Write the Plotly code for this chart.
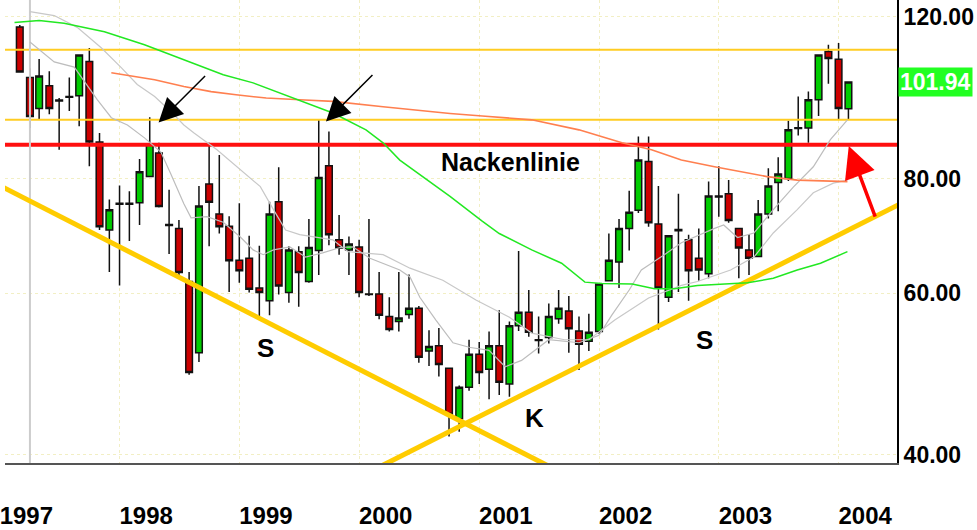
import math
import plotly.graph_objects as go

# ---------------- data ----------------
months = [f"{y}-{m:02d}-01" for y in range(1997, 2004) for m in range(1, 13)]

opens = [117.0, 103.1, 95.4, 101.0, 97.4, 98.1, 98.5, 107.3, 87.7, 70.3, 75.2, 75.0,
         75.3, 80.4, 85.3, 71.3, 70.6, 61.8, 51.7, 78.9, 73.2, 71.0, 65.2, 65.5,
         60.8, 58.9, 75.5, 60.1, 66.6, 61.8, 66.8, 82.6, 68.6, 66.9, 67.4, 59.9,
         59.9, 56.6, 55.9, 56.9, 57.8, 51.9, 52.6, 49.7, 43.8, 47.4, 51.5, 49.6,
         52.6, 47.8, 55.3, 57.2, 53.4, 53.7, 56.3, 57.4, 54.6, 53.2, 54.5, 61.9,
         64.9, 70.6, 73.9, 83.5, 71.4, 59.4, 70.4, 68.6, 65.5, 63.0, 76.6, 77.0,
         70.6, 66.9, 65.8, 73.2, 79.2, 80.0, 90.9, 90.8, 97.5, 110.0, 107.9, 95.3]
highs = [117.6, 105.5, 108.0, 104.7, 97.9, 103.1, 109.3, 111.0, 89.7, 75.9, 78.6, 77.5,
         84.0, 93.3, 87.5, 77.8, 72.1, 63.3, 78.5, 87.5, 84.9, 72.8, 75.2, 69.3,
         67.6, 75.5, 82.3, 67.5, 67.5, 72.3, 92.7, 90.0, 73.0, 69.2, 68.6, 72.3,
         63.3, 59.4, 63.3, 62.9, 58.1, 54.7, 55.0, 49.8, 47.6, 53.4, 53.1, 54.5,
         57.5, 55.9, 66.7, 60.5, 56.6, 58.5, 60.5, 59.6, 56.6, 57.0, 61.5, 69.7,
         72.3, 77.6, 88.9, 88.9, 78.5, 69.4, 77.0, 69.5, 70.6, 79.4, 82.5, 79.7,
         70.7, 69.6, 75.8, 82.1, 84.4, 92.5, 98.3, 99.5, 109.3, 111.9, 112.4, 101.94]
lows = [104.3, 90.8, 92.9, 94.0, 86.0, 94.8, 91.2, 82.5, 70.3, 63.3, 61.2, 68.4,
        71.2, 80.3, 74.4, 66.2, 62.5, 48.9, 50.5, 67.5, 69.7, 60.2, 61.6, 60.1,
        56.6, 56.8, 59.8, 58.6, 58.0, 61.6, 62.8, 67.7, 66.1, 62.8, 59.4, 59.6,
        56.2, 54.5, 54.5, 56.3, 50.4, 50.0, 48.7, 41.9, 42.4, 47.0, 47.8, 46.0,
        46.5, 46.3, 54.6, 53.8, 51.6, 52.9, 55.6, 51.7, 49.5, 51.9, 54.2, 61.8,
        60.8, 66.8, 73.4, 70.9, 54.8, 58.7, 60.2, 58.9, 61.9, 62.3, 72.7, 71.6,
        62.3, 62.8, 65.7, 72.4, 73.7, 79.5, 89.1, 87.5, 93.6, 101.5, 92.7, 92.7]
closes = [104.5, 93.5, 103.5, 95.4, 97.2, 98.3, 109.1, 87.7, 70.9, 74.0, 75.0, 75.2,
          81.4, 87.3, 74.6, 71.1, 63.2, 49.2, 74.7, 75.4, 70.9, 65.1, 63.5, 60.6,
          60.1, 73.2, 61.1, 66.9, 63.2, 67.3, 80.2, 69.5, 67.2, 67.9, 60.1, 59.8,
          56.8, 54.8, 56.4, 57.8, 51.1, 52.5, 50.2, 44.3, 47.4, 51.5, 49.2, 52.6,
          48.0, 55.3, 57.2, 54.4, 53.3, 56.6, 57.8, 54.9, 52.8, 54.4, 61.4, 65.2,
          70.6, 73.5, 83.8, 71.6, 60.8, 69.3, 70.2, 63.5, 63.6, 76.6, 76.4, 72.0,
          67.2, 65.5, 73.2, 78.5, 80.9, 90.4, 90.7, 97.5, 109.1, 108.1, 95.4, 101.94]

last_value = 101.94

# moving averages
green_ma_dates = ["1996-12-16", "1997-03-01", "1997-05-16", "1997-09-16", "1998-01-16",
                  "1998-05-16", "1998-09-13", "1998-12-13", "1999-04-04", "1999-08-13",
                  "1999-11-22", "2000-01-13", "2000-03-04", "2000-05-13", "2000-08-04",
                  "2000-11-10", "2001-01-01", "2001-04-10", "2001-07-10", "2001-09-19",
                  "2001-11-10", "2002-02-10", "2002-04-19", "2002-06-19", "2002-08-28",
                  "2003-01-28", "2003-04-16", "2003-06-28", "2003-09-07", "2003-11-28"]
green_ma_vals = [118.3, 118.9, 118.1, 115.6, 111.9, 107.7, 103.8, 101.7, 98.3, 94.3,
                 90.4, 87.5, 83.8, 80.4, 76.5, 71.9, 69.7, 66.9, 64.7, 61.7,
                 61.5, 61.4, 60.7, 60.7, 61.2, 61.6, 62.3, 63.6, 64.7, 66.6]

orange_ma_dates = ["1997-10-07", "1997-12-07", "1998-02-16", "1998-05-16", "1998-08-07",
                   "1998-10-22", "1999-01-22", "1999-05-04", "1999-08-13", "2000-01-13",
                   "2000-04-22", "2000-08-04", "2000-11-10", "2001-04-10", "2001-09-01",
                   "2002-01-10", "2002-04-10", "2002-07-10", "2002-10-19", "2003-01-07",
                   "2003-03-28", "2003-06-28", "2003-11-28"]
orange_ma_vals = [104.3, 103.4, 102.5, 100.8, 99.5, 98.7, 97.9, 97.5, 97.1, 95.8,
                  95.0, 94.2, 93.6, 92.7, 90.4, 87.5, 86.0, 83.8, 82.4, 81.4,
                  80.4, 79.7, 79.4]

grey_fast_dates = ["1997-02-01", "1997-04-16", "1997-06-16", "1997-08-25", "1997-10-07",
                   "1997-11-25", "1998-01-16", "1998-03-07", "1998-04-07", "1998-05-16",
                   "1998-06-07", "1998-07-25", "1998-09-13", "1998-11-04", "1998-12-13",
                   "1999-01-13", "1999-02-13", "1999-04-04", "1999-05-22", "1999-07-13",
                   "1999-09-04", "1999-10-13", "1999-12-04", "2000-03-04", "2000-04-04",
                   "2000-05-04", "2000-06-22", "2000-08-13", "2000-10-01", "2000-12-01",
                   "2001-01-19", "2001-03-10", "2001-06-01", "2001-09-01", "2001-11-01",
                   "2001-12-10", "2002-02-01", "2002-03-10", "2002-05-19", "2002-07-10",
                   "2002-10-19", "2002-11-16", "2002-12-28", "2003-02-16", "2003-04-16",
                   "2003-06-16", "2003-08-16", "2003-10-07", "2003-11-28"]
grey_fast_vals = [112.7, 107.2, 105.8, 97.5, 93.2, 91.5, 88.6, 85.5, 80.8, 75.1,
                  72.5, 72.7, 71.7, 69.1, 66.9, 66.1, 66.9, 67.4, 65.7, 66.4,
                  67.3, 67.4, 65.5, 63.6, 62.5, 59.4, 56.1, 53.0, 52.4, 52.0,
                  49.9, 50.7, 53.4, 53.0, 54.0, 56.8, 60.5, 63.6, 66.1, 68.1,
                  70.6, 71.2, 69.0, 69.8, 74.0, 78.3, 82.4, 88.2, 92.7]

grey_slow_dates = ["1997-02-01", "1997-04-16", "1997-06-25", "1997-09-07", "1997-11-07",
                   "1997-12-25", "1998-02-16", "1998-04-07", "1998-05-16", "1998-06-16",
                   "1998-08-25", "1998-11-04", "1999-01-04", "1999-02-13", "1999-03-22",
                   "1999-05-04", "1999-06-22", "1999-08-13", "1999-09-28", "2000-01-13",
                   "2000-04-04", "2000-07-13", "2000-10-22", "2001-02-01", "2001-04-10",
                   "2001-07-19", "2001-10-01", "2001-12-19", "2002-04-01", "2002-07-10",
                   "2002-08-28", "2002-12-07", "2003-02-16", "2003-04-16", "2003-06-28",
                   "2003-08-16", "2003-10-16", "2003-11-28"]
grey_slow_vals = [121.6, 120.4, 116.9, 111.0, 105.6, 101.3, 98.3, 94.6, 91.5, 89.7,
                  86.0, 81.8, 78.4, 74.0, 70.3, 69.5, 69.1, 68.6, 66.6, 66.1,
                  63.9, 62.0, 59.0, 56.5, 54.3, 53.4, 53.4, 56.1, 59.3, 61.2,
                  61.8, 63.6, 65.7, 69.8, 74.0, 77.2, 79.1, 79.7]

# horizontal levels
yellow_levels = [110.5, 92.7]
neckline_level = 87.1

# trend lines (start/end)
trend_down_dates = ["1996-11-01", "2001-07-01"]
trend_down_vals = [78.6, 38.4]
trend_up_dates = ["2000-01-01", "2004-05-01"]
trend_up_vals = [38.8, 74.9]

marker_line_date = "1997-02-01"

# axis
y_ticks = [40, 60, 80, 120]
y_tick_labels = ["40.00", "60.00", "80.00", "120.00"]
year_labels = ["1997", "1998", "1999", "2000", "2001", "2002", "2003", "2004"]
grid_dates = ["1997-11-01", "1998-11-01", "1999-11-01", "2000-11-01",
              "2001-11-01", "2002-11-01", "2003-11-01"]

# text annotations
labels_text = ["Nackenlinie", "S", "K", "S"]
labels_dates = ["2001-02-05", "1999-01-19", "2001-04-19", "2002-09-19"]
labels_vals = [83.4, 52.3, 43.9, 53.4]

# arrows (tip positions)
arrow_dates = ["1998-02-28", "1999-07-23"]
arrow_vals = [92.1, 92.3]
red_arrow_date = "2003-12-02"
red_arrow_val = 86.8

x_range = ["1996-11-17", "2004-04-27"]
y_range = [39.2, 125.2]

FONT = "Liberation Sans, Arial, sans-serif"

# ---------------- figure ----------------
fig = go.Figure()

for lv in yellow_levels:
    fig.add_trace(go.Scatter(x=x_range, y=[lv, lv], mode="lines",
                             line=dict(color="#ffcc22", width=2), hoverinfo="skip"))
fig.add_trace(go.Scatter(x=x_range, y=[neckline_level, neckline_level], mode="lines",
                         line=dict(color="#ff1010", width=4), hoverinfo="skip"))

fig.add_trace(go.Scatter(x=[marker_line_date, marker_line_date], y=y_range, mode="lines",
                         line=dict(color="#cccccc", width=2), hoverinfo="skip"))

fig.add_trace(go.Scatter(x=trend_down_dates, y=trend_down_vals, mode="lines",
                         line=dict(color="#ffcc00", width=5), hoverinfo="skip"))
fig.add_trace(go.Scatter(x=trend_up_dates, y=trend_up_vals, mode="lines",
                         line=dict(color="#ffcc00", width=5), hoverinfo="skip"))

fig.add_trace(go.Scatter(x=grey_slow_dates, y=grey_slow_vals, mode="lines",
                         line=dict(color="#c8c8c8", width=1.2), hoverinfo="skip"))
fig.add_trace(go.Scatter(x=grey_fast_dates, y=grey_fast_vals, mode="lines",
                         line=dict(color="#bdbdbd", width=1.2), hoverinfo="skip"))
fig.add_trace(go.Scatter(x=orange_ma_dates, y=orange_ma_vals, mode="lines",
                         line=dict(color="#ff7f4f", width=1.6), hoverinfo="skip"))
fig.add_trace(go.Scatter(x=green_ma_dates, y=green_ma_vals, mode="lines",
                         line=dict(color="#22e822", width=1.5), hoverinfo="skip"))

fig.add_trace(go.Candlestick(
    x=months, open=opens, high=highs, low=lows, close=closes,
    increasing=dict(fillcolor="#00cc00", line=dict(color="#111111", width=1.5)),
    decreasing=dict(fillcolor="#cc0000", line=dict(color="#111111", width=1.5)),
    whiskerwidth=0, hoverinfo="skip"))

annotations = []
for t, d, v in zip(labels_text, labels_dates, labels_vals):
    annotations.append(dict(x=d, y=math.log10(v), text=t, showarrow=False,
                            font=dict(family=FONT, size=25 if t == "Nackenlinie" else 26,
                                      color="black", weight="bold"),
                            xanchor="center", yanchor="middle"))
for d, v in zip(arrow_dates, arrow_vals):
    annotations.append(dict(x=d, y=math.log10(v), text="", showarrow=True,
                            ax=48, ay=-48, arrowhead=2, arrowsize=3.2, arrowwidth=1.5,
                            arrowcolor="black"))
annotations.append(dict(x=red_arrow_date, y=math.log10(red_arrow_val), text="", showarrow=True,
                        ax=27, ay=72, arrowhead=2, arrowsize=1.8, arrowwidth=3.5,
                        arrowcolor="#ff0000"))
annotations.append(dict(xref="paper", x=1.0, xanchor="left", xshift=1,
                        y=math.log10(last_value), yanchor="middle",
                        text=f"{last_value:.2f}", showarrow=False,
                        bgcolor="#22ff22", borderpad=1,
                        font=dict(family=FONT, size=23, color="white", weight="bold")))

fig.update_layout(
    width=977, height=530,
    margin=dict(l=0, r=80, t=0, b=67),
    paper_bgcolor="white", plot_bgcolor="white",
    showlegend=False,
    boxgap=0.15, boxgroupgap=0.15,
    annotations=annotations,
    xaxis=dict(
        type="date", range=x_range, rangeslider=dict(visible=False),
        tickmode="array", tickvals=[f"{y}-01-21" for y in year_labels], ticktext=year_labels,
        ticks="outside", ticklen=30, tickcolor="rgba(0,0,0,0)",
        ticklabeloverflow="allow",
        tickfont=dict(family=FONT, size=24, color="black", weight="bold"),
        showgrid=False, zeroline=False,
        showline=True, linecolor="#555555", linewidth=2,
        minor=dict(tickmode="array", tickvals=grid_dates, showgrid=True,
                   gridcolor="#f2efc4", griddash="dot", gridwidth=1, ticks=""),
    ),
    yaxis=dict(
        type="log", side="right", range=[math.log10(y_range[0]), math.log10(y_range[1])],
        tickmode="array", tickvals=y_ticks, ticktext=y_tick_labels,
        ticks="", ticklabeloverflow="allow",
        tickfont=dict(family=FONT, size=23, color="black", weight="bold"),
        showgrid=True, gridcolor="#f2efc4", griddash="dot", gridwidth=1,
        zeroline=False, showline=True, linecolor="black", linewidth=2,
    ),
)

fig.write_html("out.html", config={"displayModeBar": False},
               post_script="document.body.style.margin='0px';")
